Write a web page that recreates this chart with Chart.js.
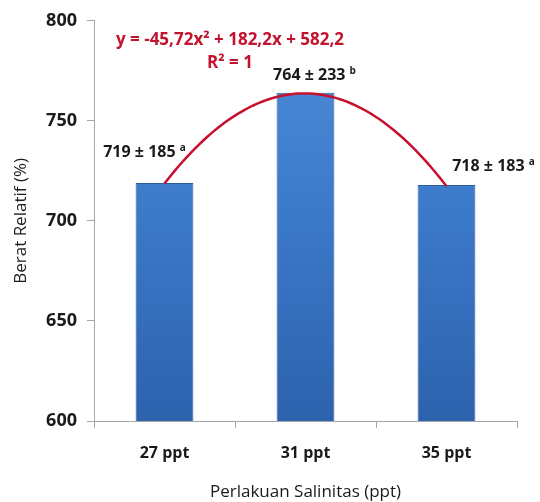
<!DOCTYPE html>
<html>
<head>
<meta charset="utf-8">
<script src="https://cdn.jsdelivr.net/npm/chart.js@4"></script>
<style>
  html, body { margin: 0; padding: 0; background: #ffffff; }
  #wrap { width: 540px; height: 502px; }
</style>
</head>
<body>
<div id="wrap"><canvas id="c" width="540" height="502"></canvas></div>
<script>
// Relative weight by salinity treatment
const categories = ['27 ppt', '31 ppt', '35 ppt'];
const meanWeight = [719, 764, 718];
const sdWeight = [185, 233, 183];
const groupLetters = ['a', 'b', 'a'];
const yTicks = [600, 650, 700, 750, 800];
// quadratic fit y = a x² + b x + c, x = treatment index 1..3
const trendCoef = [-45.72, 182.2, 582.2];
const trendR2 = 1;

const FONT = "'Open Sans', 'DejaVu Sans', sans-serif";
const AXIS_GREY = '#a6a6a6';

function fmt(v) { return String(v).replace('.', ','); }
const trendEquation = 'y = ' + fmt(trendCoef[0]) + 'x² + ' + fmt(trendCoef[1]) + 'x + ' + fmt(trendCoef[2]);

// value ± sd with a raised letter above each bar
const meanLabels = {
  id: 'meanLabels',
  afterDatasetsDraw(chart) {
    const ctx = chart.ctx;
    const meta = chart.getDatasetMeta(0);
    const shifts = [[-20, -30], [9, -17], [47, -18]];
    ctx.save();
    ctx.fillStyle = '#1a1a1a';
    ctx.textBaseline = 'middle';
    meta.data.forEach((bar, i) => {
      const main = meanWeight[i] + ' ± ' + sdWeight[i] + ' ';
      ctx.font = 'bold 16px ' + FONT;
      const w1 = ctx.measureText(main).width;
      ctx.font = 'bold 10px ' + FONT;
      const w2 = ctx.measureText(groupLetters[i]).width;
      const cx = bar.x + shifts[i][0];
      const cy = bar.y + shifts[i][1];
      const x0 = cx - (w1 + w2) / 2;
      ctx.textAlign = 'left';
      ctx.font = 'bold 16px ' + FONT;
      ctx.fillText(main, x0, cy);
      ctx.font = 'bold 10px ' + FONT;
      ctx.fillText(groupLetters[i], x0 + w1, cy - 5);
    });
    ctx.restore();
  }
};

// fitted quadratic curve and its equation
const trendCurve = {
  id: 'trendCurve',
  afterDatasetsDraw(chart) {
    const ctx = chart.ctx;
    const xs = chart.scales.x;
    const ys = chart.scales.y;
    const area = chart.chartArea;
    const [a, b, c] = trendCoef;
    ctx.save();
    ctx.beginPath();
    const steps = 80;
    for (let k = 0; k <= steps; k++) {
      const t = 1 + 2 * k / steps;
      const px = xs.getPixelForValue(t - 1);
      const py = ys.getPixelForValue(a * t * t + b * t + c);
      if (k === 0) ctx.moveTo(px, py); else ctx.lineTo(px, py);
    }
    ctx.strokeStyle = '#c8102e';
    ctx.lineWidth = 2.5;
    ctx.lineJoin = 'round';
    ctx.stroke();

    const cx = area.left + 136;
    ctx.fillStyle = '#c0142f';
    ctx.textAlign = 'center';
    ctx.textBaseline = 'middle';
    ctx.font = 'bold 17px ' + FONT;
    ctx.fillText(trendEquation, cx, area.top + 19);
    ctx.fillText('R² = ' + trendR2, cx, area.top + 42);
    ctx.restore();
  }
};

function barFill(context) {
  const chart = context.chart;
  const area = chart.chartArea;
  if (!area) return '#3c7acb';
  const g = chart.ctx.createLinearGradient(0, area.top, 0, area.bottom);
  g.addColorStop(0, '#4f8edb');
  g.addColorStop(0.5, '#3b78c8');
  g.addColorStop(1, '#2d62ad');
  return g;
}

new Chart(document.getElementById('c'), {
  type: 'bar',
  data: {
    labels: categories,
    datasets: [
      {
        data: meanWeight,
        backgroundColor: barFill,
        borderColor: '#2a5b9f',
        borderWidth: 1,
        barPercentage: 0.82,
        categoryPercentage: 0.5
      }
    ]
  },
  options: {
    responsive: false,
    animation: false,
    devicePixelRatio: 1,
    layout: { padding: { top: 20, right: 23, left: 0, bottom: 0 } },
    plugins: {
      legend: { display: false },
      tooltip: { enabled: false }
    },
    scales: {
      x: {
        type: 'category',
        grid: {
          offset: true,
          drawOnChartArea: false,
          drawTicks: true,
          tickLength: 7,
          color: AXIS_GREY
        },
        border: { color: AXIS_GREY, width: 1 },
        ticks: {
          color: '#1a1a1a',
          padding: 16,
          font: { family: FONT, size: 16, weight: 'bold' }
        },
        title: {
          display: true,
          text: 'Perlakuan Salinitas (ppt)',
          color: '#1a1a1a',
          font: { family: FONT, size: 17, weight: 'normal' },
          padding: { top: 0, bottom: 0 }
        },
        afterFit(scale) { scale.height = 81; }
      },
      y: {
        min: 600,
        max: 800,
        grid: {
          drawOnChartArea: false,
          drawTicks: true,
          tickLength: 7,
          color: AXIS_GREY
        },
        border: { color: AXIS_GREY, width: 1 },
        afterBuildTicks(scale) {
          scale.ticks = yTicks.map(v => ({ value: v }));
        },
        ticks: {
          color: '#1a1a1a',
          padding: 10,
          font: { family: FONT, size: 18, weight: 'bold' }
        },
        title: {
          display: true,
          text: 'Berat Relatif (%)',
          color: '#1a1a1a',
          font: { family: FONT, size: 17, weight: 'normal' },
          padding: { top: 11, bottom: 0 }
        },
        afterFit(scale) { scale.width = 94; }
      }
    }
  },
  plugins: [trendCurve, meanLabels]
});
</script>
</body>
</html>
